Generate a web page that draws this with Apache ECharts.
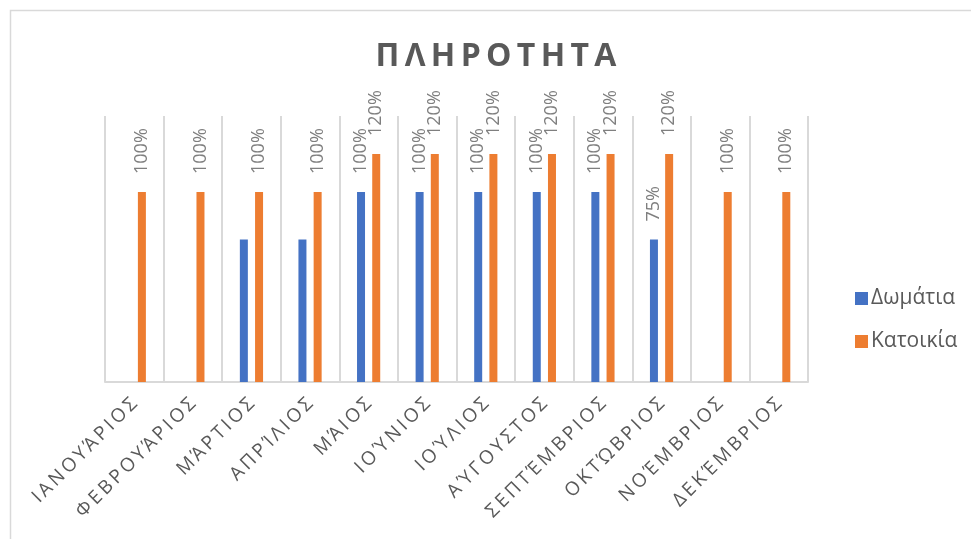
<!DOCTYPE html>
<html>
<head>
<meta charset="utf-8">
<script src="https://cdn.jsdelivr.net/npm/echarts@6/dist/echarts.min.js"></script>
<style>
  html, body { margin: 0; padding: 0; background: #ffffff; }
  #chart { width: 971px; height: 539px; }
</style>
</head>
<body>
<div id="chart"></div>
<script>
// Monthly occupancy (%) for rooms and houses
const months = ['ΙΑΝΟΥΆΡΙΟΣ', 'ΦΕΒΡΟΥΆΡΙΟΣ', 'ΜΆΡΤΙΟΣ', 'ΑΠΡΊΛΙΟΣ', 'ΜΆΙΟΣ', 'ΙΟΎΝΙΟΣ',
                'ΙΟΎΛΙΟΣ', 'ΑΎΓΟΥΣΤΟΣ', 'ΣΕΠΤΈΜΒΡΙΟΣ', 'ΟΚΤΏΒΡΙΟΣ', 'ΝΟΈΜΒΡΙΟΣ', 'ΔΕΚΈΜΒΡΙΟΣ'];
const rooms = [0, 0, 75, 75, 100, 100, 100, 100, 100, 75, 0, 0];
const houses = [100, 100, 100, 100, 120, 120, 120, 120, 120, 120, 100, 100];
// which room values carry a value label
const roomsLabelled = [false, false, false, false, true, true, true, true, true, true, false, false];
const seriesNames = ['Δωμάτια', 'Κατοικία'];
const chartTitle = 'ΠΛΗΡΟΤΗΤΑ';

// letter-spaced display of capitalised text
const THIN = '\u2009';
const spaced = s => s.split('').join(THIN);

const chart = echarts.init(document.getElementById('chart'), null, { renderer: 'canvas' });

const valueLabel = {
  show: true,
  position: 'top',
  rotate: 90,
  align: 'left',
  verticalAlign: 'middle',
  distance: 18,
  fontFamily: 'Open Sans',
  fontSize: 18,
  color: '#7f7f7f',
  formatter: p => p.value + '%'
};

chart.setOption({
  animation: false,
  backgroundColor: '#ffffff',
  graphic: [{
    type: 'rect',
    shape: { x: 10.5, y: 10.5, width: 1000, height: 600 },
    style: { fill: 'none', stroke: '#d9d9d9', lineWidth: 1.5 },
    silent: true
  }],
  title: {
    text: spaced(chartTitle),
    left: 491,
    textAlign: 'center',
    top: 36,
    textStyle: {
      fontFamily: 'Open Sans',
      fontWeight: 'bold',
      fontSize: 32,
      color: '#595959'
    }
  },
  legend: {
    orient: 'vertical',
    left: 850,
    top: 283,
    icon: 'rect',
    itemWidth: 13,
    itemHeight: 13,
    itemGap: 22,
    textStyle: { fontFamily: 'Open Sans', fontSize: 21, color: '#595959', padding: [0, 0, 0, -2] },
    data: seriesNames
  },
  grid: { left: 105, right: 163, top: 116, bottom: 157 },
  xAxis: {
    type: 'category',
    data: months,
    boundaryGap: true,
    axisTick: { show: false },
    axisLine: { lineStyle: { color: '#d9d9d9', width: 2 } },
    splitLine: { show: true, interval: 0, lineStyle: { color: '#d9d9d9', width: 2 } },
    axisLabel: {
      interval: 0,
      rotate: 45,
      margin: 19,
      fontFamily: 'Open Sans',
      fontSize: 19,
      color: '#595959',
      formatter: v => spaced(v)
    }
  },
  yAxis: {
    type: 'value',
    min: 0,
    max: 140,
    interval: 20,
    show: false,
    splitLine: { show: false }
  },
  series: [
    {
      name: seriesNames[0],
      type: 'bar',
      barWidth: 8,
      barGap: '90%',
      itemStyle: { color: '#4472c4' },
      data: rooms.map((v, i) => ({
        value: v,
        label: Object.assign({}, valueLabel, { show: roomsLabelled[i] })
      }))
    },
    {
      name: seriesNames[1],
      type: 'bar',
      barWidth: 8,
      barGap: '90%',
      itemStyle: { color: '#ed7d31' },
      label: valueLabel,
      data: houses
    }
  ]
});
</script>
</body>
</html>
